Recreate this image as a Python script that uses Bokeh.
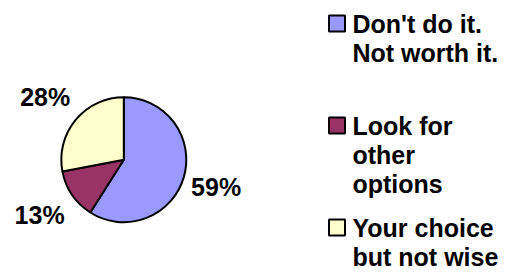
import math
from bokeh.plotting import figure
from bokeh.models import Range1d, ColumnDataSource
from bokeh.core.properties import value
from bokeh.embed import file_html
from bokeh.resources import INLINE

# ---- data ----
categories = ["Don't do it. Not worth it.", "Look for other options", "Your choice but not wise"]
legend_lines = [["Don't do it.", "Not worth it."], ["Look for", "other", "options"], ["Your choice", "but not wise"]]
percents = [59, 13, 28]
colors = ["#9999FF", "#993366", "#FFFFCC"]

W, H = 511, 276
p = figure(width=W, height=H, output_backend="svg", toolbar_location=None,
           x_range=Range1d(0, W), y_range=Range1d(0, H), min_border=0)
p.axis.visible = False
p.grid.visible = False
p.outline_line_color = None
p.background_fill_color = "white"
p.border_fill_color = "white"

# pie geometry (page px -> data: x, H-y)
cx, cy, r = 123.3, H - 159.2, 62.5

total = sum(percents)
starts, ends, mids = [], [], []
cum = 0.0
for v in percents:
    end = math.pi / 2 - 2 * math.pi * cum / total
    start = end - 2 * math.pi * v / total
    starts.append(start)
    ends.append(end)
    mids.append((start + end) / 2)
    cum += v

src = ColumnDataSource(dict(start=starts, end=ends, color=colors))
p.wedge(x=cx, y=cy, radius=r, radius_units="screen", start_angle="start", end_angle="end",
        fill_color="color", line_color="black", line_width=2, source=src)

k = 1.58
lab = ColumnDataSource(dict(
    x=[cx - 2.5 + k * r * math.cos(m) for m in mids],
    y=[cy + k * r * math.sin(m) for m in mids],
    t=[f"{v}%" for v in percents]))
p.text(x="x", y="y", text="t", source=lab, text_align="center", text_baseline="middle",
       text_font=value("Liberation Sans"), text_font_style="bold", text_font_size="25px",
       text_color="black")

# legend
leg_x_box = 336.5
leg_x_text = 352
first_base = H - 33
entry_step = 102
line_step = 29
text_dy = 10
bx, by, tx, ty, tt = [], [], [], [], []
for i, lines in enumerate(legend_lines):
    base = first_base - i * entry_step
    bx.append(leg_x_box)
    by.append(base + 10)
    for j, ln in enumerate(lines):
        tx.append(leg_x_text)
        ty.append(base + text_dy - j * line_step)
        tt.append(ln)
p.rect(x=bx, y=by, width=16, height=16, width_units="screen", height_units="screen",
       fill_color=colors, line_color="black", line_width=2)
p.text(x=tx, y=ty, text=tt, text_align="left", text_baseline="alphabetic",
       text_font=value("Liberation Sans"), text_font_style="bold", text_font_size="25px",
       text_color="black")

open("out.html", "w").write(file_html(p, INLINE))
